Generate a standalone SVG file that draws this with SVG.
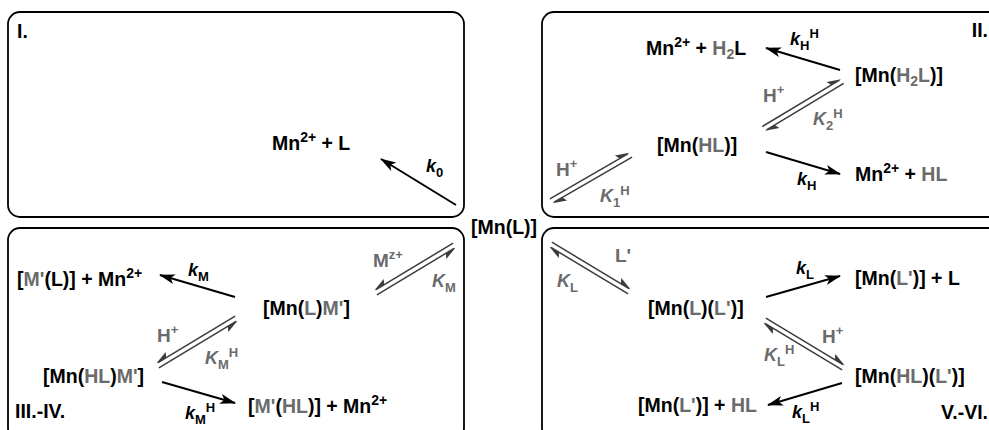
<svg xmlns="http://www.w3.org/2000/svg" xmlns:xlink="http://www.w3.org/1999/xlink" width="989" height="430" viewBox="0 0 989 430">
<style>
text { font-family: "Liberation Sans", Arial, sans-serif; font-weight: bold; fill: #000; }
.sp { font-size: 19.5px; }
.g { fill: #6b6b6b; }
.lb { font-size: 18px; font-style: italic; }
.up { font-size: 19px; }
.s { font-size: 13px; font-style: normal; }
.ss { font-size: 14px; }
.box { fill: none; stroke: #000; stroke-width: 1.8; }
.ra { stroke: #000; stroke-width: 2; fill: none; marker-end: url(#ah); }
</style>
<defs>
<marker id="ah" viewBox="0 0 16 10" refX="15" refY="5" markerWidth="16" markerHeight="10" markerUnits="userSpaceOnUse" orient="auto">
<path d="M0,0 L16,5 L0,10 L4,5 Z" fill="#000"/>
</marker>
<g id="eq">
<line x1="-46" y1="-2.5" x2="44" y2="-2.5" stroke="#3c3c3c" stroke-width="1.5"/>
<path d="M46,-2.5 L32,-7.5 L34.5,-2.5 Z" fill="#3c3c3c"/>
<line x1="46" y1="2.5" x2="-44" y2="2.5" stroke="#3c3c3c" stroke-width="1.5"/>
<path d="M-46,2.5 L-32,7.5 L-34.5,2.5 Z" fill="#3c3c3c"/>
</g>
</defs>
<rect width="989" height="430" fill="#fff"/>

<g id="boxes">
<rect class="box" x="8" y="12" width="456" height="205" rx="12"/>
<rect class="box" x="542" y="12" width="480" height="205" rx="12"/>
<rect class="box" x="8" y="228" width="456" height="212" rx="12"/>
<rect class="box" x="542" y="228" width="480" height="212" rx="12"/>
</g>

<g id="connectors">
<line class="ra" x1="456" y1="205" x2="381" y2="159"/>
<line class="ra" x1="840" y1="70" x2="766" y2="48"/>
<line class="ra" x1="766" y1="152" x2="840" y2="174"/>
<line class="ra" x1="235" y1="297" x2="160" y2="275"/>
<line class="ra" x1="162" y1="382" x2="235" y2="403"/>
<line class="ra" x1="766" y1="297" x2="840" y2="276"/>
<line class="ra" x1="842" y1="383" x2="768" y2="405"/>
<use xlink:href="#eq" href="#eq" transform="translate(591,178) rotate(-30)"/>
<use xlink:href="#eq" href="#eq" transform="translate(803,105) rotate(-31)"/>
<use xlink:href="#eq" href="#eq" transform="translate(415,269) rotate(-31) scale(-1,1)"/>
<use xlink:href="#eq" href="#eq" transform="translate(197,342) rotate(-31) scale(-1,1)"/>
<use xlink:href="#eq" href="#eq" transform="translate(590,268) rotate(31)"/>
<use xlink:href="#eq" href="#eq" transform="translate(804,344) rotate(31)"/>
</g>

<g id="labels">
<text class="sp" x="17" y="38">I.</text>
<text class="sp" x="988" y="37" text-anchor="end">II.</text>
<text class="sp" x="15" y="418">III.-IV.</text>
<text class="sp" x="988" y="419" text-anchor="end">V.-VI.</text>
<text class="lb" x="426" y="172">k<tspan class="s" dy="5">0</tspan></text>
<text class="lb" x="790" y="45">k<tspan class="s" dy="5">H</tspan><tspan class="s" dy="-12">H</tspan></text>
<text class="up g" x="763" y="102">H<tspan class="s" dy="-8">+</tspan></text>
<text class="lb g" x="813" y="125">K<tspan class="s" dy="5">2</tspan><tspan class="s" dy="-12">H</tspan></text>
<text class="up g" x="556" y="176">H<tspan class="s" dy="-8">+</tspan></text>
<text class="lb g" x="600" y="202">K<tspan class="s" dy="5">1</tspan><tspan class="s" dy="-12">H</tspan></text>
<text class="lb" x="797" y="185">k<tspan class="s" dy="5">H</tspan></text>
<text class="lb" x="188" y="276">k<tspan class="s" dy="5">M</tspan></text>
<text class="up g" x="373" y="267">M<tspan class="s" dy="-8">z+</tspan></text>
<text class="lb g" x="432" y="287">K<tspan class="s" dy="5">M</tspan></text>
<text class="up g" x="157" y="342">H<tspan class="s" dy="-8">+</tspan></text>
<text class="lb g" x="205" y="364">K<tspan class="s" dy="5">M</tspan><tspan class="s" dy="-12">H</tspan></text>
<text class="lb" x="185" y="419">k<tspan class="s" dy="5">M</tspan><tspan class="s" dy="-12">H</tspan></text>
<text class="up g" x="615" y="262">L'</text>
<text class="lb g" x="557" y="287">K<tspan class="s" dy="5">L</tspan></text>
<text class="lb" x="796" y="274">k<tspan class="s" dy="5">L</tspan></text>
<text class="up g" x="822" y="343">H<tspan class="s" dy="-8">+</tspan></text>
<text class="lb g" x="764" y="361">K<tspan class="s" dy="5">L</tspan><tspan class="s" dy="-12">H</tspan></text>
<text class="lb" x="792" y="418">k<tspan class="s" dy="5">L</tspan><tspan class="s" dy="-12">H</tspan></text>
</g>

<g id="n-MnL"><text class="sp" x="471" y="234">[Mn(L)]</text></g>
<g id="n-Mn-L"><text class="sp" x="272" y="150">Mn<tspan class="ss" dy="-8">2+</tspan><tspan dy="8"> + L</tspan></text></g>
<g id="n-Mn-H2L"><text class="sp" x="646" y="55">Mn<tspan class="ss" dy="-8">2+</tspan><tspan dy="8"> + </tspan><tspan class="g">H</tspan><tspan class="ss g" dy="4">2</tspan><tspan dy="-4">L</tspan></text></g>
<g id="n-MnH2L"><text class="sp" x="855" y="82">[Mn(<tspan class="g">H</tspan><tspan class="ss g" dy="4">2</tspan><tspan class="g" dy="-4">L</tspan>)]</text></g>
<g id="n-MnHL"><text class="sp" x="657" y="152">[Mn(<tspan class="g">HL</tspan>)]</text></g>
<g id="n-Mn-HL"><text class="sp" x="855" y="181">Mn<tspan class="ss" dy="-8">2+</tspan><tspan dy="8"> + </tspan><tspan class="g">HL</tspan></text></g>
<g id="n-ML-Mn"><text class="sp" x="17" y="286">[<tspan class="g">M'</tspan>(L)] + Mn<tspan class="ss" dy="-8">2+</tspan></text></g>
<g id="n-MnLM"><text class="sp" x="263" y="315">[Mn(<tspan class="g">L</tspan>)<tspan class="g">M'</tspan>]</text></g>
<g id="n-MnHLM"><text class="sp" x="43" y="383">[Mn(<tspan class="g">HL</tspan>)<tspan class="g">M'</tspan>]</text></g>
<g id="n-MHL-Mn"><text class="sp" x="248" y="413">[<tspan class="g">M'</tspan>(<tspan class="g">HL</tspan>)] + Mn<tspan class="ss" dy="-8">2+</tspan></text></g>
<g id="n-MnLL"><text class="sp" x="648" y="315">[Mn(<tspan class="g">L</tspan>)(<tspan class="g">L'</tspan>)]</text></g>
<g id="n-MnL2-L"><text class="sp" x="855" y="285">[Mn(<tspan class="g">L'</tspan>)] + L</text></g>
<g id="n-MnHLL"><text class="sp" x="855" y="383">[Mn(<tspan class="g">HL</tspan>)(<tspan class="g">L'</tspan>)]</text></g>
<g id="n-MnL2-HL"><text class="sp" x="638" y="412">[Mn(<tspan class="g">L'</tspan>)] + <tspan class="g">HL</tspan></text></g>
</svg>
